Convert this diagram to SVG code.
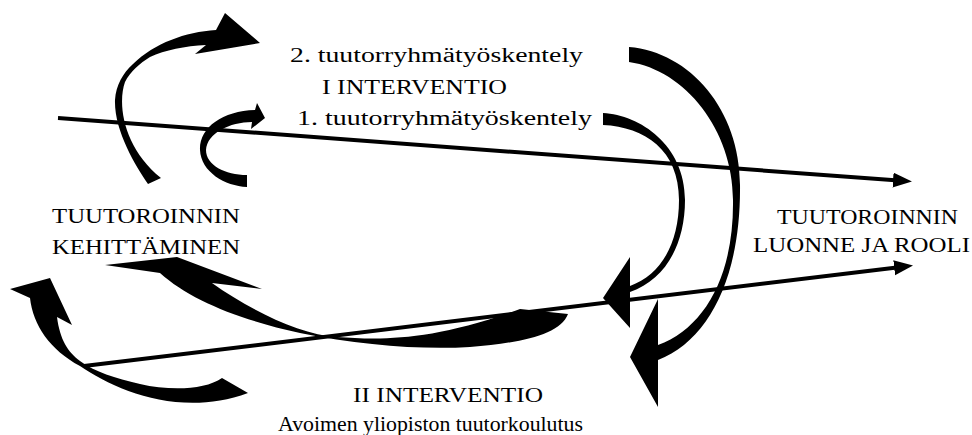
<svg xmlns="http://www.w3.org/2000/svg" width="972" height="435" viewBox="0 0 972 435">
  <style>
    .lbl { font-family: "Liberation Serif", "Times New Roman", serif; font-size: 21px; fill: #000; }
    .sm { font-size: 20px; }
    .axis { stroke: #000; stroke-width: 4; fill: none; }
    .band { fill: #000; stroke: none; }
  </style>
  <defs>
    <marker id="head" markerUnits="userSpaceOnUse" markerWidth="20" markerHeight="16" refX="9" refY="7.5" orient="auto">
      <path d="M0,0 L19,7.5 L0,15 Z" fill="#000"/>
    </marker>
  </defs>

  <rect width="972" height="435" fill="#fff"/>

  <g id="connectors">
    <!-- two long straight arrows towards the right-hand label -->
    <line class="axis" x1="58" y1="118" x2="902" y2="180.8" marker-end="url(#head)"/>
    <line class="axis" x1="84" y1="366" x2="903.1" y2="266.7" marker-end="url(#head)"/>

    <!-- large curved arrow, upper left, pointing right -->
    <path class="band" d="M148,184 C135,165 114,130 115,100 C116,85 123,73 133,64 C155,43 185,32 216,30 L225,13 L260,43 L195,54 L206,45 C185,46 165,50 150,57 C140,63 130,72 125,82 C117,105 124,148 161,178 Z"/>

    <!-- small curved arrow, upper left, pointing right -->
    <path class="band" d="M247,187 C225,186 201,172 200,150 C199,128 222,111 255,110 L257,103 L265,118 L251,129 L252,122 C230,122 207,133 206,150 C206,165 225,175 247,175 Z"/>

    <!-- inner arc on the right, head pointing left -->
    <path class="band" d="M603,113 C640,115 685,145 685,200 C685,245 665,280 630,292 L630,328 L603,298 L630,257 L630,286 C660,275 679,245 679,200 C679,150 645,127 603,125 Z"/>

    <!-- outer arc on the right, head pointing down -->
    <path class="band" d="M629,47 C690,52 740,110 740,185 C741,275 710,340 658,360 L658,407 L630,357 L658,299 L658,345 C705,328 734,275 733,200 C733,130 685,70 629,62 Z"/>

    <!-- U-shaped arrow, lower left, pointing up-left -->
    <path class="band" d="M30,298 C33,325 50,350 80,366 C115,390 180,418 248,393 L222,378 C205,390 170,391 140,384 C115,378 95,372 80,361 C68,352 60,340 57,317 L72,325 L50,278 L10,289 Z"/>

    <!-- twisted arrow along the bottom, pointing left -->
    <path class="band" d="M105,265 L177,257 L262,289 L212,283 C250,310 300,335 337,337 C380,340 430,342 520,309 L568,314 C560,335 520,343 470,347 C420,350 360,345 300,333 C240,320 190,300 160,273 Z"/>
  </g>

  <g id="node-intervention-1">
    <text class="lbl sm" x="290" y="62" textLength="293" lengthAdjust="spacingAndGlyphs">2. tuutorryhmätyöskentely</text>
    <text class="lbl" x="322" y="94" textLength="185" lengthAdjust="spacingAndGlyphs">I INTERVENTIO</text>
    <text class="lbl sm" x="297" y="125" textLength="295" lengthAdjust="spacingAndGlyphs">1. tuutorryhmätyöskentely</text>
  </g>

  <g id="node-kehittaminen">
    <text class="lbl" x="52" y="223" textLength="188" lengthAdjust="spacingAndGlyphs">TUUTOROINNIN</text>
    <text class="lbl" x="52" y="254" textLength="188" lengthAdjust="spacingAndGlyphs">KEHITTÄMINEN</text>
  </g>

  <g id="node-luonne">
    <text class="lbl" x="777" y="224" textLength="181" lengthAdjust="spacingAndGlyphs">TUUTOROINNIN</text>
    <text class="lbl" x="753" y="252" textLength="217" lengthAdjust="spacingAndGlyphs">LUONNE JA ROOLI</text>
  </g>

  <g id="node-intervention-2">
    <text class="lbl" x="353" y="402" textLength="190" lengthAdjust="spacingAndGlyphs">II INTERVENTIO</text>
    <text class="lbl" x="278" y="431" textLength="305" lengthAdjust="spacingAndGlyphs">Avoimen yliopiston tuutorkoulutus</text>
  </g>
</svg>
